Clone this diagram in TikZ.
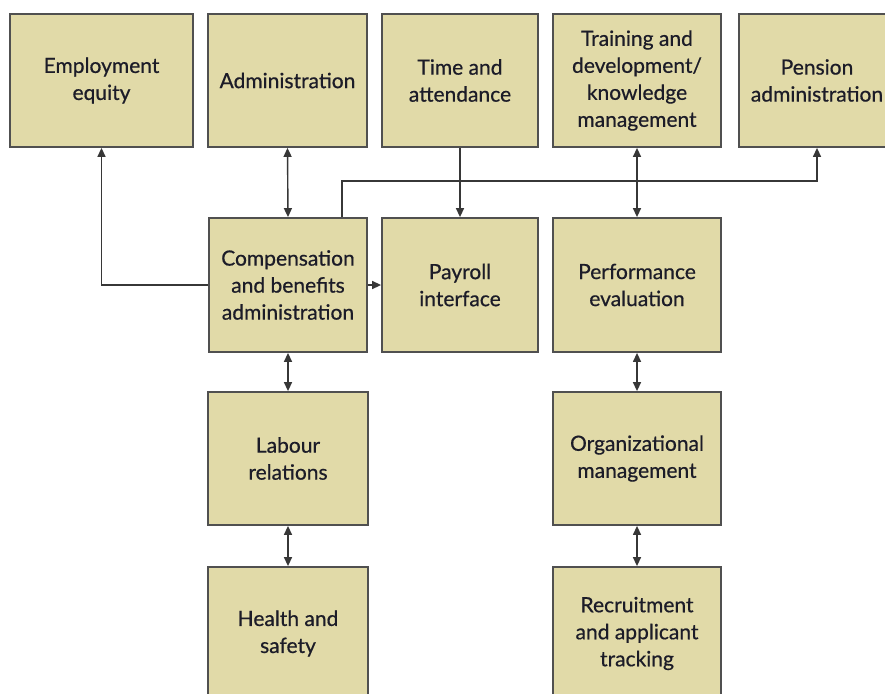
\documentclass[tikz,border=0pt]{standalone}
\usepackage{fontspec}
\setmainfont{Lato}
\newfontfamily\boxfont{Lato}[FakeBold=0.6]
\usetikzlibrary{arrows.meta}
\definecolor{boxfill}{RGB}{225,218,168}
\definecolor{boxline}{RGB}{80,80,80}
\definecolor{conn}{RGB}{55,55,55}
\definecolor{txt}{RGB}{28,28,40}
\begin{document}
\begin{tikzpicture}[x=1pt,y=-1pt,
  box/.style={draw=boxline, line width=1.8pt, fill=boxfill, align=center,
    inner sep=2pt, text=txt, font=\boxfont\fontsize{21}{27}\selectfont},
  link/.style={draw=conn, line width=1.4pt, -{Triangle[length=9pt,width=8pt]}},
  dlink/.style={draw=conn, line width=1.4pt, {Triangle[length=9pt,width=8pt]}-{Triangle[length=9pt,width=8pt]}}]
\clip (0,0) rectangle (885,693);
\fill[white] (0,0) rectangle (885,693);
% top row
\node[box, minimum width=183pt, minimum height=133pt] (emp) at (101.5,80.5) {Employment\\equity};
\node[box, minimum width=159pt, minimum height=133pt] (adm) at (287.5,80.5) {Administration};
\node[box, minimum width=156pt, minimum height=133pt] (time) at (460,80.5) {Time and\\attendance};
\node[box, minimum width=168pt, minimum height=133pt] (train) at (637,80.5) {Training and\\development/\\knowledge\\management};
\node[box, minimum width=156pt, minimum height=133pt] (pen) at (817,80.5) {Pension\\administration};
% middle row
\node[box, minimum width=158pt, minimum height=134pt] (comp) at (288,285) {Compensation\\and benefits\\administration};
\node[box, minimum width=156pt, minimum height=134pt] (pay) at (460,285) {Payroll\\interface};
\node[box, minimum width=168pt, minimum height=134pt] (perf) at (637,285) {Performance\\evaluation};
% third row
\node[box, minimum width=160pt, minimum height=133pt] (lab) at (288,458.5) {Labour\\relations};
\node[box, minimum width=168pt, minimum height=133pt] (org) at (637,458.5) {Organizational\\management};
% bottom row
\node[box, minimum width=160pt, minimum height=133pt] (hs) at (288,633.5) {Health and\\safety};
\node[box, minimum width=168pt, minimum height=133pt] (rec) at (637,633.5) {Recruitment\\and applicant\\tracking};
% connectors
\coordinate (pj) at (342,181);
\draw[dlink] (adm.south) -- (comp.north);
\draw[link] (time.south) -- (pay.north);
\draw[link] (comp.east) -- (pay.west);
\draw[link] (comp.west) -| (emp.south);
\draw[link] (pj |- comp.north) -- (pj) -| (pen.south);
\draw[dlink] (train.south) -- (perf.north);
\draw[dlink] (perf.south) -- (org.north);
\draw[dlink] (comp.south) -- (lab.north);
\draw[dlink] (lab.south) -- (hs.north);
\draw[dlink] (org.south) -- (rec.north);
\end{tikzpicture}
\end{document}
